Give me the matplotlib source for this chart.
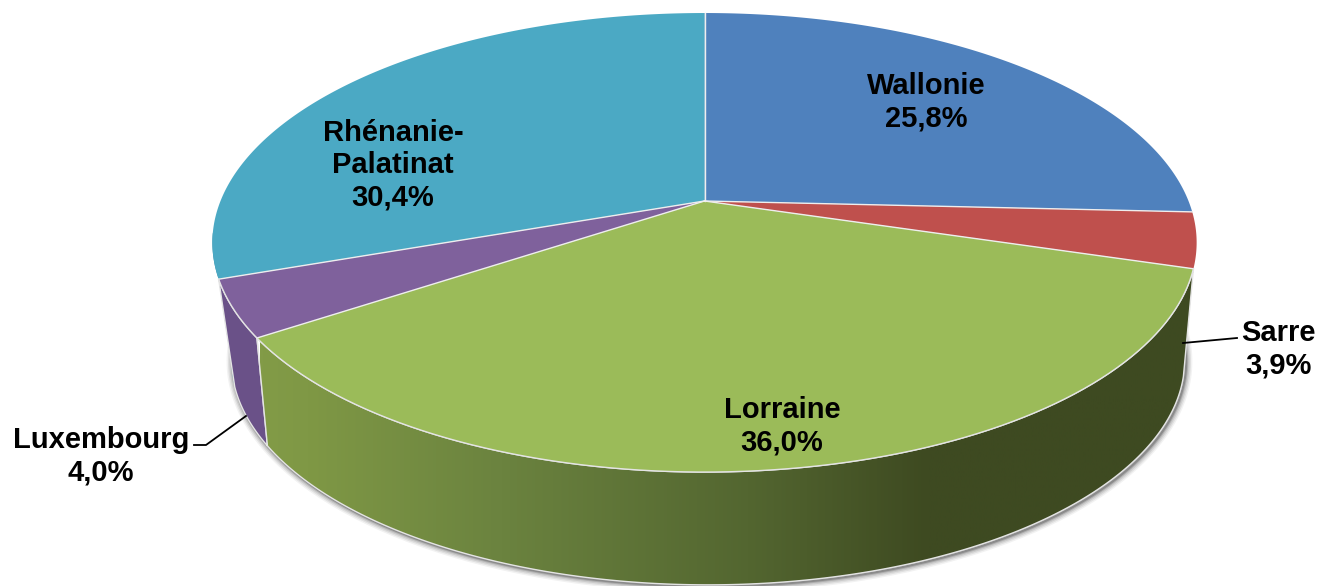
import numpy as np
import matplotlib
matplotlib.use('Agg')
import matplotlib.pyplot as plt
from matplotlib.colors import LinearSegmentedColormap
from matplotlib.patches import Polygon

# datos
regiones = ['Wallonie', 'Sarre', 'Lorraine', 'Luxembourg', 'Rhénanie-\nPalatinat']
valores = [25.8, 3.9, 36.0, 4.0, 30.4]
colores = ['#4f81bd', '#bf504d', '#9bbb59', '#7f619c', '#4ba9c4']

plt.rcParams['font.family'] = ['Liberation Sans', 'DejaVu Sans']

W, H = 1318, 586
fig = plt.figure(figsize=(W / 100, H / 100), dpi=100)
ax = fig.add_axes([0, 0, 1, 1])

# cara de arriba y cara de abajo: (cx, cy, B, A, k) con perspectiva
ARRIBA = (704.5, 201, 484, 222, -0.181)
ABAJO = (708, 310.5, 465, 214, -0.22)


def proy(ang, p):
    cx, cy, B, A, k = p
    u = np.sin(np.radians(ang))
    v = -np.cos(np.radians(ang))
    d = 1 + k * v
    return np.column_stack([cx + B * u / d, cy + A * v / d])


def arco(a1, a2, p):
    return proy(np.linspace(a1, a2, 200), p)


total = sum(valores)
cortes = np.concatenate([[0], np.cumsum(valores)]) * 360 / total
BORDE = '#e4e4e4'

# sombra del lado
sombra = np.vstack([arco(92, 275, ABAJO)])
for lw, al in [(9, 0.05), (7, 0.07), (5, 0.09), (3, 0.14), (1.5, 0.2)]:
    ax.plot(sombra[:, 0] + 1.5, sombra[:, 1] + 1.5, color='k', lw=lw, alpha=al,
            solid_capstyle='round', zorder=1)

# lado Rhenanie (casi oculto)
pts = np.vstack([arco(cortes[4], 262, ARRIBA), arco(262, cortes[4], ABAJO)])
ax.add_patch(Polygon(pts, closed=True, fc='#3c8da6', ec='none', zorder=2))

# lado Luxembourg
pts = np.vstack([arco(cortes[3], cortes[4], ARRIBA), arco(cortes[4], cortes[3], ABAJO)])
ax.add_patch(Polygon(pts, closed=True, fc='#6a5188', ec=BORDE, lw=1, zorder=3))

# lado Lorraine con degradado
pts = np.vstack([arco(cortes[2], cortes[3], ARRIBA), arco(cortes[3], cortes[2], ABAJO)])
cmap = LinearSegmentedColormap.from_list('lor', [
    (0.0, '#829b47'), (0.05, '#7f9845'), (0.255, '#6b833f'), (0.52, '#536630'),
    (0.71, '#3e4a21'), (1.0, '#3e4a21')])
im = ax.imshow(np.linspace(0, 1, 512).reshape(1, -1), cmap=cmap, aspect='auto',
               extent=[260, 1200, 600, 200], zorder=3)
parche = Polygon(pts, closed=True, fc='none', ec=BORDE, lw=1, zorder=3.5)
ax.add_patch(parche)
im.set_clip_path(parche)

# caras de arriba
for i, c in enumerate(colores):
    pts = np.vstack([[ARRIBA[:2]], arco(cortes[i], cortes[i + 1], ARRIBA)])
    ax.add_patch(Polygon(pts, closed=True, fc=c, ec='none', zorder=4))

# lineas claras entre porciones y borde de delante
centro = np.array(ARRIBA[:2])
for a in cortes[:-1]:
    fin = proy(np.array([a]), ARRIBA)[0]
    ax.plot([centro[0], fin[0]], [centro[1], fin[1]], color='#eeeeee', lw=1, zorder=4.5)
frente = arco(cortes[2], cortes[4], ARRIBA)
ax.plot(frente[:, 0], frente[:, 1], color=BORDE, lw=1, zorder=4.5)

# textos
pos_textos = [(926, 102), (1278, 349), (782, 426), (101, 456), (393, 165)]
for nombre, v, (x, y) in zip(regiones, valores, pos_textos):
    txt = nombre + '\n' + f'{v:.1f}'.replace('.', ',') + '%'
    ax.text(x, y, txt, ha='center', va='center', fontsize=21, fontweight='bold',
            color='k', linespacing=1.19, zorder=6)

# lineas guia
ax.plot([194, 206, 246], [445, 445, 416], color='k', lw=1.3, zorder=5)
ax.plot([1183, 1237], [343, 338], color='k', lw=1.3, zorder=5)

ax.set_xlim(0, W)
ax.set_ylim(H, 0)
ax.axis('off')
fig.savefig('out.png', dpi=100)
